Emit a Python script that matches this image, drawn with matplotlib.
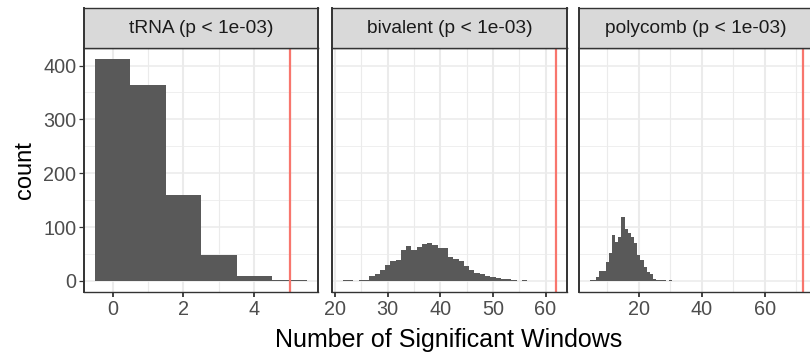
import matplotlib
matplotlib.use("Agg")
import matplotlib.pyplot as plt
import numpy as np

plt.rcParams['font.family'] = ['Liberation Sans', 'DejaVu Sans']

# ---- data ----
panel_titles = ["tRNA (p < 1e-03)", "bivalent (p < 1e-03)", "polycomb (p < 1e-03)"]

trna_bins = [0, 1, 2, 3, 4, 5]
trna_counts = [412, 364, 159, 49, 9, 1]
trna_obs = 5

bivalent_bins = list(range(22, 57))
bivalent_counts = [1, 2, 0, 1, 2, 10, 12, 20, 30, 37, 39, 57, 64, 57, 63, 68, 70, 67,
                   62, 62, 45, 41, 37, 27, 21, 15, 13, 10, 8, 5, 3, 3, 1, 0, 1]
bivalent_obs = 62

polycomb_bins = list(range(5, 31))
polycomb_counts = [1, 2, 7, 19, 18, 36, 52, 86, 73, 81, 119, 97, 89, 81, 70, 49, 38,
                   26, 16, 13, 3, 2, 1, 1, 0, 1]
polycomb_obs = 72

x_majors = [[0, 2, 4], [20, 30, 40, 50, 60], [20, 40, 60]]
x_minors = [[1, 3, 5], [25, 35, 45, 55], [10, 30, 50, 70]]
y_majors = [0, 100, 200, 300, 400]
y_minors = [50, 150, 250, 350]

x_title = "Number of Significant Windows"
y_title = "count"

# ---- layout ----
W, H = 810, 353
DPI = 100
fig = plt.figure(figsize=(W / DPI, H / DPI), dpi=DPI)

def rect(x0, x1, y0, y1):
    return [x0 / W, 1 - y1 / H, (x1 - x0) / W, (y1 - y0) / H]

panel_x = [(84.3, 318.0), (332.3, 566.7), (579.3, 813.3)]
py0, py1 = 48.0, 292.0
sy0 = 8.0

datasets = [(trna_bins, trna_counts, trna_obs),
            (bivalent_bins, bivalent_counts, bivalent_obs),
            (polycomb_bins, polycomb_counts, polycomb_obs)]

border = '#333333'
grid = '#EBEBEB'
ymax_all = max(max(trna_counts), max(bivalent_counts), max(polycomb_counts))
ylo, yhi = -0.05 * ymax_all, 1.05 * ymax_all

TICK_FS = 14.3
STRIP_FS = 13.8
TITLE_FS = 18
YTITLE_FS = 17

for i, ((x0, x1), (bins, counts, obs)) in enumerate(zip(panel_x, datasets)):
    ax = fig.add_axes(rect(x0, x1, py0, py1))
    lo = min(min(bins) - 0.5, obs)
    hi = max(max(bins) + 0.5, obs)
    pad = 0.05 * (hi - lo)
    ax.set_xlim(lo - pad, hi + pad)
    ax.set_ylim(ylo, yhi)
    ax.set_xticks(x_majors[i])
    ax.set_xticks(x_minors[i], minor=True)
    ax.set_yticks(y_majors)
    ax.set_yticks(y_minors, minor=True)
    ax.grid(True, axis='x', which='major', color=grid, linewidth=1.5)
    ax.grid(True, axis='x', which='minor', color=grid, linewidth=0.8)
    ax.grid(True, axis='y', which='major', color=grid, linewidth=1.1)
    ax.grid(True, axis='y', which='minor', color=grid, linewidth=0.55)
    ax.set_axisbelow(True)
    ax.bar(bins, counts, width=1.0, align='center', color='#595959', linewidth=0)
    ax.axvline(obs, color='#F8766D', linewidth=1.6)
    for s in ax.spines.values():
        s.set_color(border)
        s.set_linewidth(1.0)
    ax.spines['left'].set_linewidth(1.4)
    ax.spines['right'].set_linewidth(1.4)
    ax.tick_params(which='major', direction='out', length=3.8, color=border,
                   labelsize=TICK_FS, labelcolor='#4D4D4D', pad=2)
    ax.tick_params(axis='x', which='major', width=1.3)
    ax.tick_params(axis='y', which='major', width=0.9)
    ax.tick_params(which='minor', length=0)
    ax.set_xticklabels([str(v) for v in x_majors[i]])
    if i == 0:
        ax.set_yticklabels([str(v) for v in y_majors])
        ax.set_ylabel(y_title, fontsize=YTITLE_FS, labelpad=5)
    else:
        ax.tick_params(axis='y', which='major', length=0, labelleft=False)

    sax = fig.add_axes(rect(x0, x1, sy0, py0))
    sax.set_facecolor('#D9D9D9')
    sax.set_xticks([])
    sax.set_yticks([])
    for s in sax.spines.values():
        s.set_color(border)
        s.set_linewidth(1.0)
    sax.spines['left'].set_linewidth(1.4)
    sax.spines['right'].set_linewidth(1.4)
    sax.text(0.5, 0.48, panel_titles[i], ha='center', va='center', fontsize=STRIP_FS,
             color='#1A1A1A', transform=sax.transAxes)

fig.text((84.3 + 813.3) / 2 / W, 1 - 347 / H, x_title, ha='center', va='baseline',
         fontsize=TITLE_FS)

fig.savefig("out.png", dpi=DPI, facecolor='white')
